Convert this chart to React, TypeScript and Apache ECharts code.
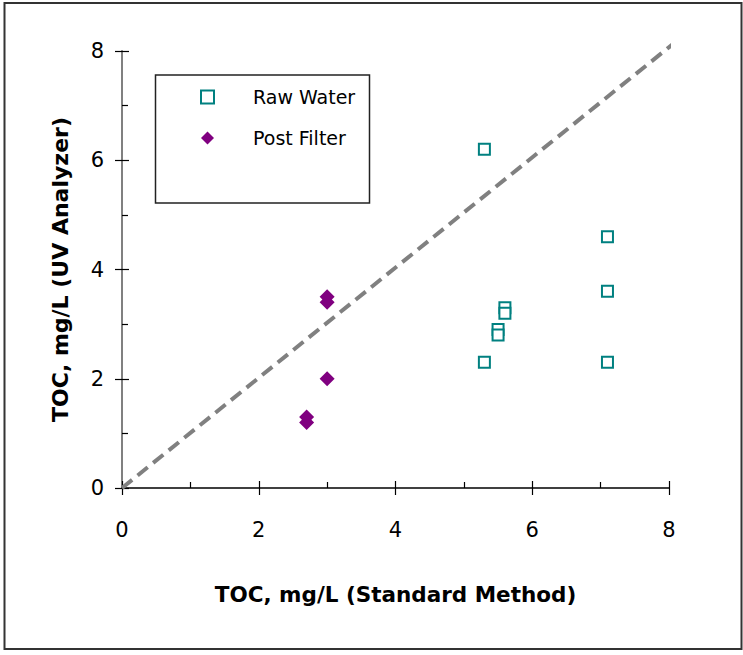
import React, { useEffect, useRef } from "react";
import * as echarts from "echarts";

const rawWater: [number, number][] = [
  [5.3, 6.2],
  [5.3, 2.3],
  [5.5, 2.9],
  [5.5, 2.8],
  [5.6, 3.3],
  [5.6, 3.2],
  [7.1, 4.6],
  [7.1, 3.6],
  [7.1, 2.3],
];

const postFilter: [number, number][] = [
  [2.7, 1.3],
  [2.7, 1.2],
  [3.0, 3.5],
  [3.0, 3.4],
  [3.0, 2.0],
];

const oneToOne: [number, number][] = [
  [0, 0],
  [8.05, 8.12],
];

const xTitle = "TOC, mg/L (Standard Method)";
const yTitle = "TOC, mg/L (UV Analyzer)";
const seriesNames = ["Raw Water", "Post Filter"];

const FONT = "DejaVu Sans";

export default function App() {
  const ref = useRef<HTMLDivElement>(null);
  useEffect(() => {
    if (!ref.current) return;
    const chart = echarts.init(ref.current, null, { renderer: "svg" });
    const tickLabel = { fontFamily: FONT, fontSize: 21, color: "#000" };
    const baseAxis = {
      type: "value" as const,
      min: 0,
      max: 8,
      interval: 2,
      splitLine: { show: false },
    };
    chart.setOption({
      animation: false,
      backgroundColor: "#fff",
      grid: { left: 122, right: 74, top: 51, bottom: 167 },
      legend: {
        left: 200,
        top: 87,
        orient: "vertical",
        padding: 0,
        itemGap: 21,
        itemWidth: 13,
        itemHeight: 13,
        data: [
          {
            name: seriesNames[0],
            icon: "rect",
            itemStyle: { color: "#fff", borderColor: "#008080", borderWidth: 2 },
          },
          {
            name: seriesNames[1],
            icon: "diamond",
            itemStyle: { color: "#800080", borderWidth: 0 },
          },
        ],
        textStyle: {
          fontFamily: FONT,
          fontSize: 19,
          color: "#000",
          lineHeight: 20,
          padding: [0, 0, 0, 34],
        },
      },
      xAxis: [
        {
          ...baseAxis,
          name: xTitle,
          nameLocation: "middle",
          nameGap: 95,
          nameTextStyle: { fontFamily: FONT, fontSize: 21.5, fontWeight: "bold", color: "#000" },
          axisLine: { show: true, onZero: false, lineStyle: { color: "#000", width: 1.5 } },
          axisTick: { show: true, inside: true, length: 7, lineStyle: { color: "#000", width: 1.2 } },
          minorTick: { show: true, splitNumber: 2, length: 6, lineStyle: { color: "#000", width: 1.2 } },
          axisLabel: { ...tickLabel, margin: 31 },
        },
        {
          ...baseAxis,
          position: "bottom",
          axisLine: { show: false },
          axisTick: { show: true, inside: false, length: 7, lineStyle: { color: "#000", width: 1.2 } },
          axisLabel: { show: false },
        },
      ],
      yAxis: [
        {
          ...baseAxis,
          name: yTitle,
          nameLocation: "middle",
          nameGap: 51,
          nameTextStyle: { fontFamily: FONT, fontSize: 22, fontWeight: "bold", color: "#000" },
          axisLine: { show: true, onZero: false, lineStyle: { color: "#808080", width: 2 } },
          axisTick: { show: true, inside: true, length: 7, lineStyle: { color: "#000", width: 1.2 } },
          minorTick: { show: true, splitNumber: 2, length: 6, lineStyle: { color: "#000", width: 1.2 } },
          axisLabel: { ...tickLabel, margin: 18 },
        },
        {
          ...baseAxis,
          position: "left",
          axisLine: { show: false },
          axisTick: { show: true, inside: false, length: 7, lineStyle: { color: "#000", width: 1.2 } },
          axisLabel: { show: false },
        },
      ],
      series: [
        {
          type: "line",
          name: "1:1",
          data: oneToOne,
          xAxisIndex: 0,
          yAxisIndex: 0,
          symbol: "none",
          clip: false,
          z: 1,
          lineStyle: { color: "#808080", width: 4, type: [13, 7] },
        },
        {
          type: "scatter",
          name: seriesNames[0],
          data: rawWater,
          symbol: "rect",
          symbolSize: 11,
          z: 3,
          itemStyle: { color: "#fff", borderColor: "#008080", borderWidth: 2, opacity: 1 },
        },
        {
          type: "scatter",
          name: seriesNames[1],
          data: postFilter,
          symbol: "diamond",
          symbolSize: 15,
          z: 3,
          itemStyle: { color: "#800080", opacity: 1 },
        },
      ],
      graphic: [
        {
          type: "rect",
          shape: { x: 4.5, y: 3, width: 737, height: 646 },
          style: { fill: "none", stroke: "#333", lineWidth: 2 },
          silent: true,
        },
        {
          type: "rect",
          shape: { x: 155.5, y: 75, width: 214, height: 128 },
          style: { fill: "none", stroke: "#222", lineWidth: 1.5 },
          silent: true,
        },
      ],
    });
    return () => chart.dispose();
  }, []);
  return (
    <div
      ref={ref}
      style={{ position: "absolute", left: 0, top: 0, width: 743, height: 655 }}
    />
  );
}
